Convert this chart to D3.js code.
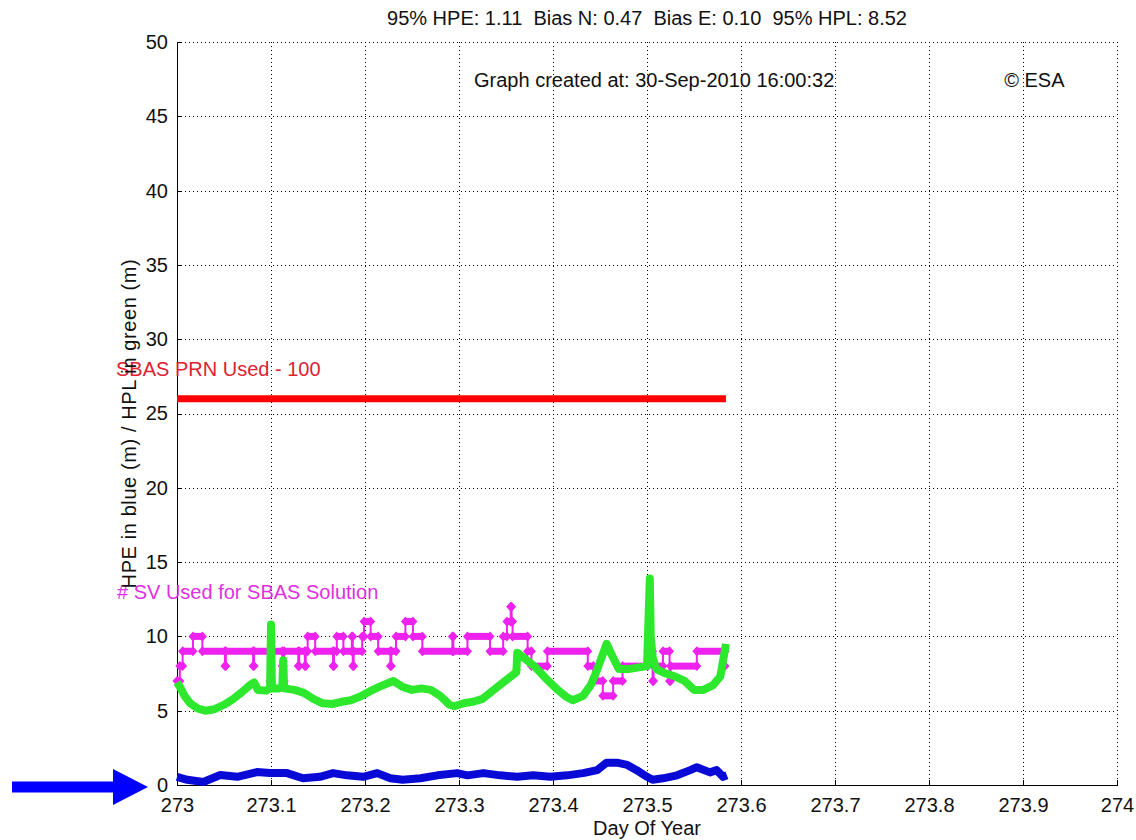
<!DOCTYPE html>
<html>

<head>
    <meta charset="utf-8">
    <style>
        body { margin: 0; background: #fff; }
        text { font-family: "Liberation Sans", Arial, sans-serif; }
        .grid line { stroke: #000; stroke-width: 1; stroke-dasharray: 1,3; shape-rendering: crispEdges; }
        .axis path, .axis line { stroke: #000; shape-rendering: crispEdges; }
        .axis text { font-size: 20px; fill: #111; }
    </style>
</head>

<body>
    <script src="https://cdn.jsdelivr.net/npm/d3@7"></script>
    <script>
        // tick values
        var xTicks = [273, 273.1, 273.2, 273.3, 273.4, 273.5, 273.6, 273.7, 273.8, 273.9, 274];
        var yTicks = [0, 5, 10, 15, 20, 25, 30, 35, 40, 45, 50];

        // HPE (blue)
        var hpeDays = [273.000, 273.011, 273.028, 273.046, 273.064, 273.085, 273.099, 273.117, 273.134, 273.152,
            273.166, 273.181, 273.198, 273.213, 273.227, 273.240, 273.259, 273.277, 273.298, 273.309,
            273.326, 273.344, 273.362, 273.379, 273.397, 273.415, 273.432, 273.447, 273.457, 273.468,
            273.479, 273.489, 273.500, 273.506, 273.517, 273.532, 273.546, 273.553, 273.567, 273.574,
            273.581, 273.585];
        var hpeValues = [0.55, 0.35, 0.2, 0.67, 0.55, 0.87, 0.8, 0.8, 0.45, 0.55,
            0.8, 0.65, 0.55, 0.8, 0.45, 0.35, 0.45, 0.65, 0.8, 0.65,
            0.8, 0.65, 0.55, 0.65, 0.55, 0.65, 0.8, 1.0, 1.5, 1.5,
            1.35, 1.0, 0.55, 0.35, 0.45, 0.65, 1.0, 1.2, 0.85, 1.0,
            0.55, 0.65];

        // HPL (green)
        var hplDays = [273.000, 273.004, 273.008, 273.014, 273.022, 273.030, 273.040, 273.050, 273.060, 273.070,
            273.078, 273.082, 273.086, 273.095, 273.099, 273.100, 273.101, 273.108, 273.112, 273.113,
            273.114, 273.125, 273.135, 273.145, 273.155, 273.165, 273.175, 273.185, 273.195, 273.205,
            273.215, 273.230, 273.240, 273.250, 273.260, 273.270, 273.280, 273.290, 273.295, 273.305,
            273.315, 273.325, 273.335, 273.345, 273.355, 273.361, 273.362, 273.370, 273.380, 273.392,
            273.405, 273.415, 273.421, 273.432, 273.440, 273.446, 273.457, 273.463, 273.470, 273.480,
            273.490, 273.500, 273.503, 273.504, 273.506, 273.510, 273.520, 273.530, 273.540, 273.550,
            273.560, 273.570, 273.578, 273.584];
        var hplValues = [6.9, 6.5, 6.0, 5.5, 5.15, 5.0, 5.1, 5.4, 5.8, 6.3,
            6.75, 6.9, 6.4, 6.35, 6.5, 10.8, 6.5, 6.5, 6.6, 8.4,
            6.5, 6.4, 6.2, 5.8, 5.5, 5.45, 5.6, 5.7, 5.95, 6.3,
            6.6, 7.0, 6.6, 6.4, 6.5, 6.4, 6.0, 5.4, 5.3, 5.5,
            5.6, 5.8, 6.3, 6.8, 7.3, 7.6, 8.9, 8.5, 8.0, 7.2,
            6.4, 5.9, 5.7, 6.0, 6.7, 7.6, 9.5, 8.7, 7.8, 7.8,
            7.9, 8.0, 13.9, 10.0, 8.6, 7.8, 7.5, 7.3, 7.0, 6.4,
            6.4, 6.7, 7.3, 9.5];

        // number of satellites used (magenta), value holds until the next day
        var svDays = [273.000, 273.003, 273.006, 273.017, 273.027, 273.051, 273.052, 273.081, 273.082, 273.099,
            273.100, 273.112, 273.113, 273.114, 273.129, 273.130, 273.136, 273.137, 273.139, 273.147,
            273.166, 273.167, 273.170, 273.177, 273.186, 273.187, 273.188, 273.197, 273.199, 273.206,
            273.214, 273.227, 273.228, 273.233, 273.243, 273.251, 273.261, 273.293, 273.294, 273.309,
            273.333, 273.347, 273.351, 273.355, 273.356, 273.357, 273.373, 273.377, 273.394, 273.437,
            273.443, 273.453, 273.464, 273.474, 273.501, 273.506, 273.507, 273.517, 273.524, 273.525,
            273.553, 273.583];
        var svCounts = [7, 8, 9, 10, 9, 8, 9, 8, 9, 7,
            9, 8, 7, 9, 8, 9, 8, 9, 10, 9,
            8, 9, 10, 9, 10, 8, 9, 10, 11, 10,
            9, 8, 9, 10, 11, 10, 9, 10, 9, 10,
            9, 10, 11, 12, 11, 10, 9, 8, 9, 8,
            7, 6, 7, 8, 9, 7, 8, 9, 7, 8,
            9, 8];

        // SBAS PRN line (red)
        var prnDays = [273.0, 273.584];
        var prnLevel = [26, 26];

        var margin = { top: 42, right: 19, bottom: 55, left: 177 },
            width = 1136 - margin.left - margin.right,
            height = 840 - margin.top - margin.bottom;

        var x = d3.scaleLinear().domain([273, 274]).range([0, width]);
        var y = d3.scaleLinear().domain([0, 50]).range([height, 0]);

        var root = d3.select("body").append("svg")
            .attr("width", 1136)
            .attr("height", 840);

        var svg = root.append("g")
            .attr("transform", "translate(" + margin.left + "," + margin.top + ")");

        // dotted grid
        var grid = svg.append("g").attr("class", "grid");
        grid.selectAll(".gx").data(xTicks.slice(1)).enter().append("line")
            .attr("x1", function (d) { return Math.round(x(d)) + 0.5; })
            .attr("x2", function (d) { return Math.round(x(d)) + 0.5; })
            .attr("y1", 0).attr("y2", height);
        grid.selectAll(".gy").data(yTicks.slice(1)).enter().append("line")
            .attr("y1", function (d) { return Math.round(y(d)) + 0.5; })
            .attr("y2", function (d) { return Math.round(y(d)) + 0.5; })
            .attr("x1", 0).attr("x2", width);

        // axes, ticks pointing inwards
        svg.append("g")
            .attr("class", "axis")
            .attr("transform", "translate(0," + height + ")")
            .call(d3.axisBottom(x).tickValues(xTicks).tickSizeInner(-5).tickSizeOuter(0).tickPadding(13)
                .tickFormat(function (d) { return d3.format("")(+d.toFixed(1)); }));

        svg.append("g")
            .attr("class", "axis")
            .call(d3.axisLeft(y).tickValues(yTicks).tickSizeInner(-5).tickSizeOuter(0).tickPadding(9));

        // red SBAS PRN line
        var line = d3.line()
            .x(function (d) { return x(d[0]); })
            .y(function (d) { return y(d[1]); });

        svg.append("path")
            .datum(d3.zip(prnDays, prnLevel))
            .attr("fill", "none")
            .attr("stroke", "#ff0000")
            .attr("stroke-width", 7)
            .attr("d", line);

        // HPE blue
        svg.append("path")
            .datum(d3.zip(hpeDays, hpeValues))
            .attr("fill", "none")
            .attr("stroke", "#0a0ad6")
            .attr("stroke-width", 8)
            .attr("stroke-linejoin", "round")
            .attr("d", line);

        // satellites, magenta step line with markers
        var sv = d3.zip(svDays, svCounts);
        var svGroup = svg.append("g");
        svGroup.append("path")
            .datum(sv)
            .attr("fill", "none")
            .attr("stroke", "#ee22ee")
            .attr("stroke-width", 2)
            .attr("d", d3.line().curve(d3.curveStepAfter)
                .x(function (d) { return x(d[0]); })
                .y(function (d) { return y(d[1]); }));

        svGroup.selectAll(".bar").data(sv.slice(0, -1)).enter().append("line")
            .attr("x1", function (d) { return x(d[0]); })
            .attr("x2", function (d, i) { return x(sv[i + 1][0]); })
            .attr("y1", function (d) { return y(d[1]); })
            .attr("y2", function (d) { return y(d[1]); })
            .attr("stroke", "#ee22ee")
            .attr("stroke-width", 7);

        var diamond = "M0,-5L4.5,0L0,5L-4.5,0Z";
        var corners = [];
        sv.forEach(function (d, i) {
            corners.push(d);
            if (i + 1 < sv.length) corners.push([sv[i + 1][0], d[1]]);
        });
        svGroup.selectAll(".mk").data(corners).enter().append("path")
            .attr("d", diamond)
            .attr("fill", "#ee22ee")
            .attr("transform", function (d) { return "translate(" + x(d[0]) + "," + y(d[1]) + ")"; });

        // HPL green
        svg.append("path")
            .datum(d3.zip(hplDays, hplValues))
            .attr("fill", "none")
            .attr("stroke", "#2ee82e")
            .attr("stroke-width", 8)
            .attr("stroke-linejoin", "round")
            .attr("d", line);

        // labels inside the plot
        svg.append("text")
            .attr("x", x(273) - 61)
            .attr("y", y(27.5))
            .style("font-size", "20px")
            .style("fill", "#dd2233")
            .text("SBAS PRN Used - 100");

        svg.append("text")
            .attr("x", x(273) - 60)
            .attr("y", y(12.55))
            .style("font-size", "20px")
            .style("fill", "#e030e0")
            .text("# SV Used for SBAS Solution");

        svg.append("text")
            .attr("x", x(273.316))
            .attr("y", 45)
            .style("font-size", "20px")
            .style("fill", "#111")
            .text("Graph created at: 30-Sep-2010 16:00:32");

        svg.append("text")
            .attr("x", x(273.880))
            .attr("y", 45)
            .style("font-size", "20px")
            .style("fill", "#111")
            .text("\u00a9 ESA");

        // title
        svg.append("text")
            .attr("x", width / 2)
            .attr("y", -17)
            .attr("text-anchor", "middle")
            .style("font-size", "20px")
            .style("fill", "#111")
            .style("white-space", "pre")
            .text("95% HPE: 1.11  Bias N: 0.47  Bias E: 0.10  95% HPL: 8.52");

        // axis titles
        svg.append("text")
            .attr("transform", "translate(" + (width / 2) + "," + (height + 50) + ")")
            .attr("text-anchor", "middle")
            .style("font-size", "20px")
            .style("fill", "#111")
            .text("Day Of Year");

        svg.append("text")
            .attr("transform", "translate(-41," + (height / 2 + 10) + ") rotate(-90)")
            .attr("text-anchor", "middle")
            .style("font-size", "20px")
            .style("letter-spacing", "0.6px")
            .style("fill", "#111")
            .text("HPE in blue (m) / HPL in green (m)");

        // blue arrow pointing at zero
        var ay = margin.top + y(0) + 2;
        root.append("path")
            .attr("d", "M12," + (ay - 5.5) + "H113V" + (ay - 18) + "L148," + ay + "L113," + (ay + 18) + "V" + (ay + 5.5) + "H12Z")
            .attr("fill", "#0000ff");
    </script>
</body>

</html>
